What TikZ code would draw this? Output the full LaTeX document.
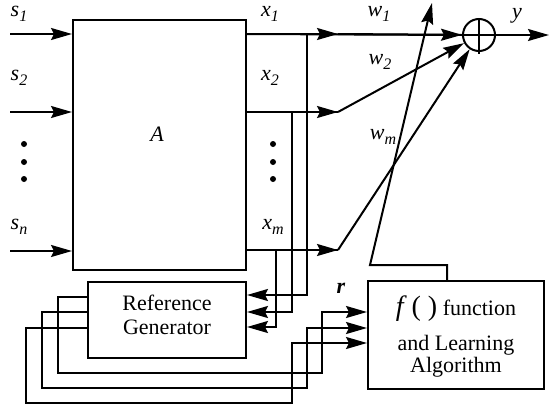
\documentclass[tikz,border=0pt]{standalone}
\usepackage{fontspec}
\setmainfont{Liberation Serif}
\usetikzlibrary{arrows.meta}
\newcommand\subs[1]{\raisebox{-0.45ex}{\fontsize{16}{16}\selectfont #1}}
\begin{document}
\begin{tikzpicture}[x=1pt,y=-1pt,
  ln/.style={line width=2pt},
  arr/.style={line width=2pt,-{Stealth[length=21pt,width=12pt,inset=3pt]}},
  blk/.style={draw,line width=2pt,inner sep=0pt},
  lab/.style={font=\fontsize{22}{24}\selectfont\itshape,inner sep=0pt},
  txt/.style={font=\fontsize{22}{24}\selectfont,inner sep=0pt,anchor=base},
  dot/.style={circle,fill,inner sep=0pt,minimum size=6pt}]
\useasboundingbox (0,0) rectangle (550,410);
% blocks
\node[blk,minimum width=173pt,minimum height=250pt] (A) at (159.5,145) {};
\node[lab] (Alab) at (157,134) {A};
\node[blk,minimum width=158pt,minimum height=76pt] (RG) at (167,320) {};
\node[txt] (rg1) at (167,310) {Reference};
\node[txt] (rg2) at (167,334) {Generator};
\node[blk,minimum width=176pt,minimum height=108pt] (F) at (456,335) {};
\node[txt] (f1) at (456,315) {{\fontsize{28}{28}\selectfont\textit{f}\,( )} function};
\node[txt] (f2) at (456,350) {and Learning};
\node[txt] (f3) at (456,372) {Algorithm};
\node[blk,circle,minimum size=32pt] (sum) at (479,35) {};
\draw[ln] (sum.north) -- ([yshift=-2pt]sum.south);
\draw[ln] (sum.west) -- (sum.east);
% input labels and arrows
\node[lab] (s1) at (19,14) {s\subs{1}};
\node[lab] (s2) at (19,78) {s\subs{2}};
\node[lab] (sn) at (19,227) {s\subs{n}};
\coordinate (i1) at (10,34);
\coordinate (i2) at (10,112);
\coordinate (in) at (10,251);
\draw[arr] (i1) -- (A.west |- i1);
\draw[arr] (i2) -- (A.west |- i2);
\draw[arr] (in) -- (A.west |- in);
\node[dot] (ld1) at (24,144) {};
\node[dot] (ld2) at (24,162) {};
\node[dot] (ld3) at (24,179) {};
% outputs
\node[lab] (x1) at (270,14) {x\subs{1}};
\node[lab] (x2) at (270,78) {x\subs{2}};
\node[lab] (xm) at (273,227) {x\subs{m}};
\node[dot] (rd1) at (273,144) {};
\node[dot] (rd2) at (273,162) {};
\node[dot] (rd3) at (273,179) {};
\coordinate (m1) at (338,34);
\coordinate (m2) at (338,112);
\coordinate (mm) at (338,250);
\draw[ln] (A.east |- m1) -- (sum.west);
\draw[ln] (A.east |- m2) -- (m2);
\draw[ln] (A.east |- mm) -- (mm);
\draw[arr] (A.east |- m1) -- (m1);
\draw[arr] (A.east |- m2) -- (m2);
\draw[arr] (A.east |- mm) -- (mm);
\draw[arr] (m1) -- (sum);
\draw[arr] (m2) -- (sum);
\draw[arr] (mm) -- (sum);
\coordinate (yo) at (549,35);
\draw[arr] (sum.east) -- (yo);
\node[lab] (ylab) at (517,16) {y};
\node[lab] (w1) at (379,14) {w\subs{1}};
\node[lab] (w2) at (380,62) {w\subs{2}};
\node[lab] (wm) at (383,137) {w\subs{m}};
% taps to reference generator
\coordinate (t1) at (307,34);
\coordinate (t2) at (292,112);
\coordinate (tm) at (276,250);
\draw[arr] (t1) |- (RG.east |- 0,295);
\draw[arr] (t2) |- (RG.east |- 0,312);
\draw[arr] (tm) |- (RG.east |- 0,327);
% reference generator to f box
\draw[arr] (RG.west |- 0,297) -| (58,373) -| (322,312) -- (F.west |- 0,312);
\draw[arr] (RG.west |- 0,312) -| (42,388) -| (307,328) -- (F.west |- 0,328);
\draw[arr] (RG.west |- 0,328) -| (26,403) -| (292,343) -- (F.west |- 0,343);
\node[lab,font=\fontsize{22}{24}\selectfont\bfseries\itshape] (rlab) at (341,288) {r};
% weight update
\coordinate (wt) at (432,3);
\draw[arr] (F.north -| 447,0) |- (370,265) -- (wt);
\end{tikzpicture}
\end{document}
